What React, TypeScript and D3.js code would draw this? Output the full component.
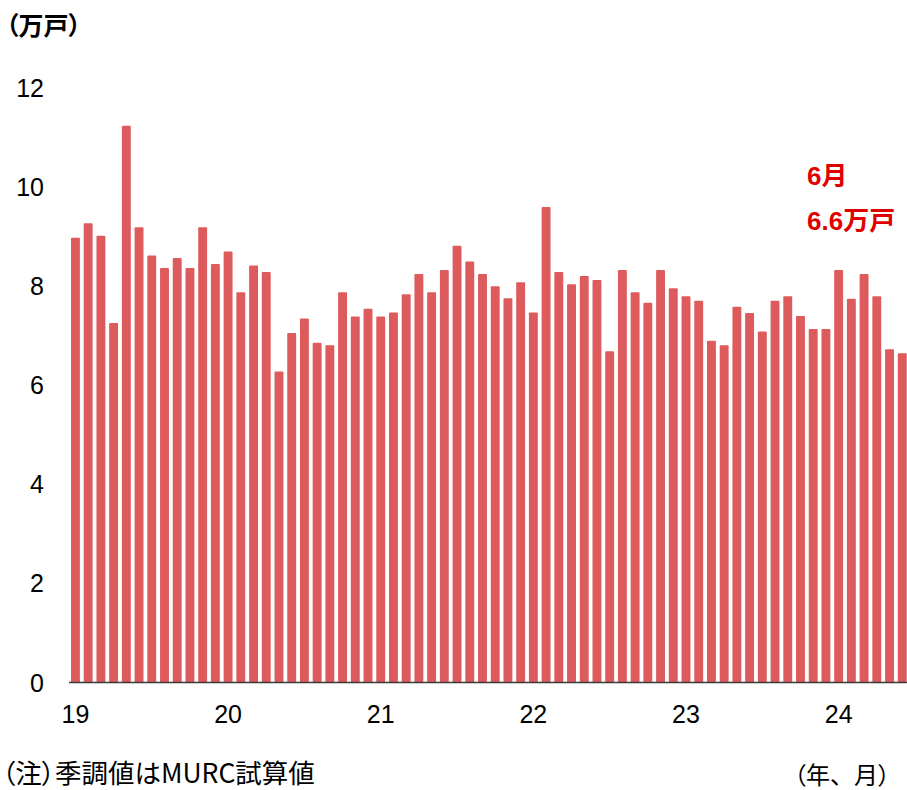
import React from "react";
import * as d3 from "d3";

const years = ["19", "20", "21", "22", "23", "24"];
const values2019 = [8.97, 9.26, 9.01, 7.25, 11.23, 9.18, 8.61, 8.36, 8.56, 8.36, 9.18, 8.44];
const values2020 = [8.69, 7.87, 8.41, 8.28, 6.27, 7.05, 7.34, 6.85, 6.80, 7.87, 7.38, 7.54];
const values2021 = [7.38, 7.46, 7.83, 8.24, 7.87, 8.32, 8.81, 8.49, 8.24, 7.99, 7.75, 8.07];
const values2022 = [7.46, 9.59, 8.28, 8.03, 8.20, 8.12, 6.68, 8.32, 7.87, 7.66, 8.32, 7.95];
const values2023 = [7.79, 7.70, 6.89, 6.80, 7.58, 7.45, 7.08, 7.70, 7.79, 7.39, 7.13, 7.13];
const values2024 = [8.32, 7.74, 8.24, 7.79, 6.72, 6.64];
const yTicks = [0, 2, 4, 6, 8, 10, 12];

const allValues = [...values2019, ...values2020, ...values2021, ...values2022, ...values2023, ...values2024];
const data = allValues.map((v, i) => ({
  key: `${2019 + Math.floor(i / 12)}-${(i % 12) + 1}`,
  year: years[Math.floor(i / 12)],
  month: (i % 12) + 1,
  value: v,
}));

const W = 907;
const H = 790;
const FONT = "'Liberation Sans', Arial, 'Noto Sans CJK JP', sans-serif";
const JFONT = "'Noto Sans CJK JP', 'Liberation Sans', sans-serif";
const PALT = { fontFeatureSettings: '"palt"' };

export default function App() {
  const x = d3
    .scaleBand<string>()
    .domain(data.map((d) => d.key))
    .range([69.1, 908.6])
    .paddingInner(0.3)
    .paddingOuter(0.15);
  const y = d3.scaleLinear().domain([0, 12]).range([682.5, 87.5]);
  const bw = x.bandwidth();

  return (
    <svg
      width={W}
      height={H}
      viewBox={`0 0 ${W} ${H}`}
      style={{ position: "absolute", left: 0, top: 0, background: "#fff" }}
    >
      <rect x={0} y={0} width={W} height={H} fill="#fff" />
      {data.map((d) => (
        <rect
          key={d.key}
          x={x(d.key)}
          y={y(d.value)}
          width={bw}
          height={y(0) - y(d.value)}
          fill="#dd5b5d"
          rx={1}
        />
      ))}
      <line x1={69} x2={907} y1={y(0)} y2={y(0)} stroke="#3a3a3a" strokeWidth={1.5} />
      {yTicks.map((t) => (
        <text
          key={t}
          x={44}
          y={y(t)}
          textAnchor="end"
          dominantBaseline="central"
          fontFamily={FONT}
          fontSize={25}
          fill="#000"
        >
          {t}
        </text>
      ))}
      {data
        .filter((d) => d.month === 1)
        .map((d) => (
          <text
            key={d.key}
            x={(x(d.key) as number) + bw / 2}
            y={714}
            textAnchor="middle"
            dominantBaseline="central"
            fontFamily={FONT}
            fontSize={25}
            fill="#000"
          >
            {d.year}
          </text>
        ))}
      <text
        x={6}
        y={24}
        dominantBaseline="central"
        fontFamily={JFONT}
        fontSize={25}
        fontWeight="bold"
        fill="#000"
      >
        <tspan style={PALT}>（</tspan>
        <tspan>万戸</tspan>
        <tspan style={PALT}>）</tspan>
      </text>
      <text
        x={807}
        y={176}
        dominantBaseline="central"
        fontFamily={FONT}
        fontSize={26}
        fontWeight="bold"
        fill="#e00000"
      >
        6月
      </text>
      <text
        x={807}
        y={221}
        dominantBaseline="central"
        fontFamily={FONT}
        fontSize={26}
        fontWeight="bold"
        fill="#e00000"
      >
        6.6万戸
      </text>
      <text
        x={2}
        y={771}
        dominantBaseline="central"
        fontFamily={JFONT}
        fontSize={26.5}
        style={PALT}
        fill="#000"
      >
        （注）季調値はMURC試算値
      </text>
      <text
        x={794}
        y={773}
        dominantBaseline="central"
        fontFamily={JFONT}
        fontSize={24}
        fill="#000"
      >
        <tspan style={PALT}>（</tspan>
        <tspan>年、月</tspan>
        <tspan style={PALT}>）</tspan>
      </text>
    </svg>
  );
}
